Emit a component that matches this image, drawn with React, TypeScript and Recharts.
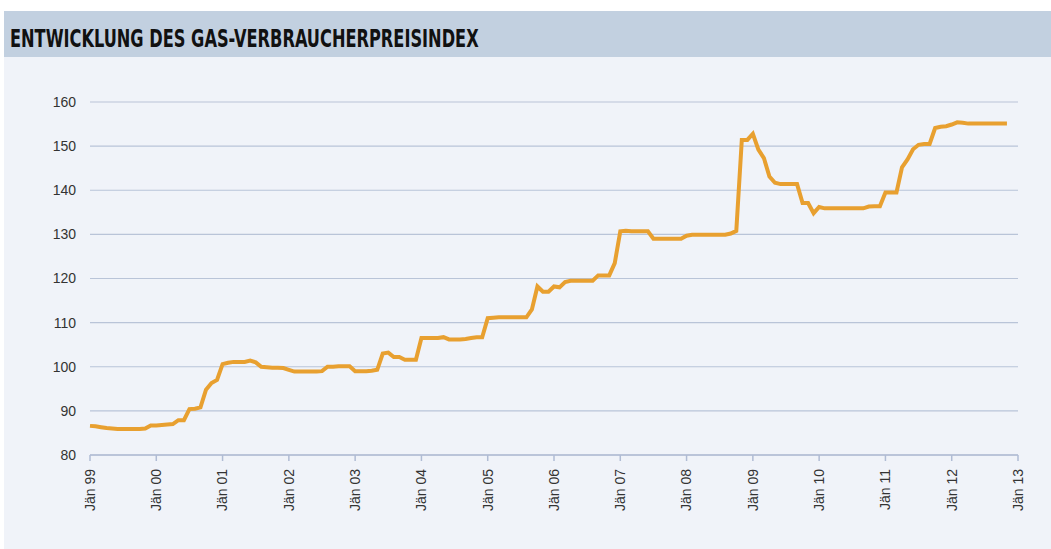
import { LineChart, Line, XAxis, YAxis, CartesianGrid } from "recharts";

// Gas-Verbraucherpreisindex, monatlich Jän 99 – Nov 12
const values1999 = [86.6, 86.5, 86.3, 86.1, 86.0, 85.9, 85.9, 85.9, 85.9, 85.9, 86.0, 86.7];
const values2000 = [86.7, 86.8, 86.9, 87.0, 87.9, 87.9, 90.4, 90.5, 90.8, 94.8, 96.3, 97.0];
const values2001 = [100.6, 100.9, 101.1, 101.1, 101.1, 101.4, 101.0, 100.0, 99.9, 99.8, 99.8, 99.7];
const values2002 = [99.3, 98.9, 98.9, 98.9, 98.9, 98.9, 99.0, 100.0, 100.0, 100.1, 100.1, 100.1];
const values2003 = [99.0, 99.0, 99.0, 99.1, 99.3, 103.0, 103.2, 102.2, 102.2, 101.6, 101.6, 101.6];
const values2004 = [106.5, 106.5, 106.5, 106.5, 106.7, 106.2, 106.2, 106.2, 106.3, 106.5, 106.7, 106.7];
const values2005 = [111.0, 111.1, 111.2, 111.2, 111.2, 111.2, 111.2, 111.2, 113.0, 118.2, 117.0, 117.0];
const values2006 = [118.2, 118.0, 119.2, 119.5, 119.5, 119.5, 119.5, 119.5, 120.7, 120.7, 120.7, 123.5];
const values2007 = [130.7, 130.8, 130.7, 130.7, 130.7, 130.7, 129.0, 129.0, 129.0, 129.0, 129.0, 129.0];
const values2008 = [129.7, 129.9, 129.9, 129.9, 129.9, 129.9, 129.9, 129.9, 130.2, 130.8, 151.4, 151.4];
const values2009 = [152.8, 149.2, 147.3, 143.1, 141.7, 141.4, 141.4, 141.4, 141.4, 137.1, 137.1, 134.8];
const values2010 = [136.2, 135.9, 135.9, 135.9, 135.9, 135.9, 135.9, 135.9, 135.9, 136.3, 136.4, 136.4];
const values2011 = [139.5, 139.5, 139.5, 145.2, 147.0, 149.3, 150.3, 150.5, 150.5, 154.1, 154.4, 154.5];
const values2012 = [154.9, 155.4, 155.3, 155.1, 155.1, 155.1, 155.1, 155.1, 155.1, 155.1, 155.1];

const yearLabels = [
  "Jän 99", "Jän 00", "Jän 01", "Jän 02", "Jän 03", "Jän 04", "Jän 05", "Jän 06",
  "Jän 07", "Jän 08", "Jän 09", "Jän 10", "Jän 11", "Jän 12", "Jän 13",
];
const yTicks = [80, 90, 100, 110, 120, 130, 140, 150, 160];

const allValues = [
  ...values1999, ...values2000, ...values2001, ...values2002, ...values2003,
  ...values2004, ...values2005, ...values2006, ...values2007, ...values2008,
  ...values2009, ...values2010, ...values2011, ...values2012,
];
const data = allValues.map((v, i) => ({ month: i, index: v }));
const xTicks = yearLabels.map((_, i) => i * 12);

const XTick = (props: any) => {
  const { x, y, payload } = props;
  return (
    <text
      x={x}
      y={y}
      transform={`rotate(-90, ${x}, ${y})`}
      textAnchor="end"
      dy="0.35em"
      fill="#333"
      fontSize={14}
      fontFamily="'Liberation Sans', Arial, sans-serif"
    >
      {yearLabels[payload.value / 12]}
    </text>
  );
};

export default function App() {
  return (
    <div
      style={{
        position: "absolute",
        left: 0,
        top: 0,
        width: 1051,
        height: 549,
        background: "#ffffff",
        overflow: "hidden",
      }}
    >
      <div
        style={{
          position: "absolute",
          left: 4,
          top: 11,
          width: 1047,
          height: 46,
          background: "#c2d0e0",
        }}
      >
        <div
          style={{
            position: "absolute",
            left: 6,
            top: 15,
            fontFamily: "'Liberation Sans Narrow', 'DejaVu Sans Condensed', sans-serif",
            fontWeight: 700,
            fontSize: 25,
            lineHeight: 1,
            color: "#111",
            whiteSpace: "nowrap",
            transformOrigin: "left top",
            transform: "scaleX(0.72)",
          }}
        >
          ENTWICKLUNG DES GAS-VERBRAUCHERPREISINDEX
        </div>
      </div>
      <div
        style={{
          position: "absolute",
          left: 4,
          top: 57,
          width: 1047,
          height: 492,
          background: "#f0f3f9",
        }}
      />
      <div style={{ position: "absolute", left: 0, top: 57 }}>
        <LineChart
          width={1051}
          height={492}
          data={data}
          margin={{ top: 45, right: 33, bottom: 34, left: 0 }}
        >
          <CartesianGrid vertical={false} stroke="#b9c4d8" strokeWidth={1.2} />
          <XAxis
            dataKey="month"
            type="number"
            domain={[0, 168]}
            ticks={xTicks}
            interval={0}
            height={60}
            tick={<XTick />}
            tickSize={6}
            tickMargin={8}
            axisLine={{ stroke: "#b0bcd4", strokeWidth: 1.5 }}
            tickLine={{ stroke: "#b0bcd4", strokeWidth: 1.5 }}
          />
          <YAxis
            type="number"
            domain={[80, 160]}
            ticks={yTicks}
            interval={0}
            width={90}
            axisLine={false}
            tickLine={false}
            tickMargin={8}
            tick={{ fill: "#333", fontSize: 14, fontFamily: "'Liberation Sans', Arial, sans-serif" }}
          />
          <Line
            type="linear"
            dataKey="index"
            stroke="#e8a030"
            strokeWidth={4}
            dot={false}
            isAnimationActive={false}
          />
        </LineChart>
      </div>
    </div>
  );
}
